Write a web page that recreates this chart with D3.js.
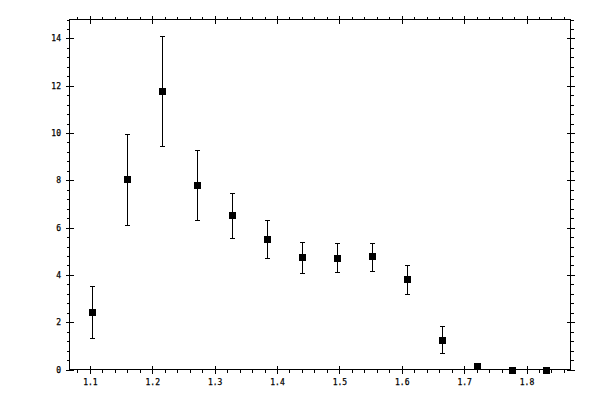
<!DOCTYPE html>
<html>
<head>
<meta charset="utf-8">
<script src="https://cdn.jsdelivr.net/npm/d3@7"></script>
<style>
  html, body { margin: 0; padding: 0; background: #fff; }
  svg { display: block; }
  .axis text { font-family: "DejaVu Sans Mono", monospace; font-size: 8px; fill: #000; stroke: #000; stroke-width: 0.25px; }
  .axis line, .axis path { stroke: #000; stroke-width: 1; shape-rendering: crispEdges; }
</style>
</head>
<body>
<script>
// ---- data ----
const xVals  = [1.104, 1.160, 1.216, 1.272, 1.328, 1.384, 1.440, 1.496, 1.552, 1.608, 1.664, 1.720, 1.776, 1.832];
const yVals  = [2.43, 8.05, 11.77, 7.79, 6.53, 5.51, 4.75, 4.71, 4.79, 3.82, 1.24, 0.13, 0, 0];
const yLow   = [1.34, 6.10, 9.44, 6.31, 5.55, 4.71, 4.09, 4.13, 4.17, 3.19, 0.71, 0.05, 0, 0];
const yHigh  = [3.55, 9.97, 14.09, 9.27, 7.48, 6.34, 5.41, 5.33, 5.37, 4.40, 1.82, 0.21, 0, 0];
const xMajorTicks = [1.1, 1.2, 1.3, 1.4, 1.5, 1.6, 1.7, 1.8];
const yMajorTicks = [0, 2, 4, 6, 8, 10, 12, 14];
const xDomain = [1.0673, 1.8705];
const yDomain = [0, 14.8];

// ---- setup ----
const W = 600, H = 400;
const pLeft = 69.5, pRight = 570.5, pTop = 19.5, pBottom = 369.5;

const svg = d3.select("body").append("svg").attr("width", W).attr("height", H);

const x = d3.scaleLinear().domain(xDomain).range([pLeft, pRight]);
const y = d3.scaleLinear().domain(yDomain).range([pBottom, pTop]);

const xMinor = d3.range(Math.ceil(xDomain[0] / 0.02), Math.floor(xDomain[1] / 0.02) + 1).map(i => +(i * 0.02).toFixed(2));
const yMinor = d3.range(0, Math.floor(yDomain[1] / 0.4) + 1).map(i => +(i * 0.4).toFixed(1));

function addAxis(gen, tx, ty, values, size, fmt, pad) {
  const a = gen.tickValues(values).tickSize(size).tickSizeOuter(0);
  if (fmt) a.tickFormat(fmt).tickPadding(pad); else a.tickFormat("");
  const g = svg.append("g").attr("class", "axis").attr("transform", `translate(${tx},${ty})`).call(a);
  g.select(".domain").remove();
  return g;
}

// left axis
addAxis(d3.axisLeft(y), pLeft, 0, yMinor, 3);
addAxis(d3.axisLeft(y), pLeft, 0, yMajorTicks, -4);
addAxis(d3.axisLeft(y), pLeft, 0, yMajorTicks, 4, d3.format("d"), 4.5);
// right axis
addAxis(d3.axisRight(y), pRight, 0, yMinor, 3);
addAxis(d3.axisRight(y), pRight, 0, yMajorTicks, -4);
addAxis(d3.axisRight(y), pRight, 0, yMajorTicks, 4);
// bottom axis
addAxis(d3.axisBottom(x), 0, pBottom, xMinor, 3);
addAxis(d3.axisBottom(x), 0, pBottom, xMajorTicks, -4);
addAxis(d3.axisBottom(x), 0, pBottom, xMajorTicks, 4, d3.format(".1f"), 6.3);
// top axis
addAxis(d3.axisTop(x), 0, pTop, xMinor, 3);
addAxis(d3.axisTop(x), 0, pTop, xMajorTicks, -4);
addAxis(d3.axisTop(x), 0, pTop, xMajorTicks, 4);

// frame
svg.append("rect")
  .attr("x", pLeft).attr("y", pTop)
  .attr("width", pRight - pLeft).attr("height", pBottom - pTop)
  .attr("fill", "none").attr("stroke", "#000").attr("stroke-width", 1)
  .attr("shape-rendering", "crispEdges");

// data
const data = xVals.map((xv, i) => ({ x: xv, y: yVals[i], lo: yLow[i], hi: yHigh[i] }));
const pts = svg.append("g");
const capW = 2.5;

pts.selectAll("line.err").data(data).enter().append("line")
  .attr("class", "err")
  .attr("x1", d => Math.round(x(d.x)) + 0.5).attr("x2", d => Math.round(x(d.x)) + 0.5)
  .attr("y1", d => y(d.lo)).attr("y2", d => y(d.hi))
  .attr("stroke", "#000").attr("stroke-width", 1).attr("shape-rendering", "crispEdges");

pts.selectAll("line.capHi").data(data).enter().append("line")
  .attr("x1", d => Math.round(x(d.x)) + 0.5 - capW).attr("x2", d => Math.round(x(d.x)) + 0.5 + capW)
  .attr("y1", d => Math.round(y(d.hi)) + 0.5).attr("y2", d => Math.round(y(d.hi)) + 0.5)
  .attr("stroke", "#000").attr("stroke-width", 1).attr("shape-rendering", "crispEdges");

pts.selectAll("line.capLo").data(data).enter().append("line")
  .attr("x1", d => Math.round(x(d.x)) + 0.5 - capW).attr("x2", d => Math.round(x(d.x)) + 0.5 + capW)
  .attr("y1", d => Math.round(y(d.lo)) + 0.5).attr("y2", d => Math.round(y(d.lo)) + 0.5)
  .attr("stroke", "#000").attr("stroke-width", 1).attr("shape-rendering", "crispEdges");

const ms = 7;
pts.selectAll("rect.m").data(data).enter().append("rect")
  .attr("x", d => Math.round(x(d.x)) + 0.5 - ms / 2)
  .attr("y", d => Math.round(y(d.y)) + 0.5 - ms / 2)
  .attr("width", ms).attr("height", ms)
  .attr("fill", "#000").attr("shape-rendering", "crispEdges");
</script>
</body>
</html>
